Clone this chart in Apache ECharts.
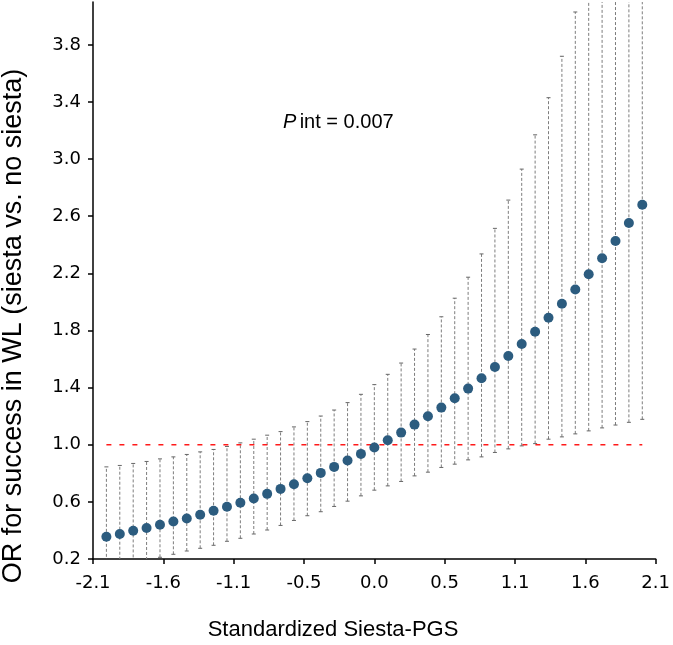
<!DOCTYPE html>
<html><head><meta charset="utf-8">
<script src="https://cdn.jsdelivr.net/npm/echarts@6/dist/echarts.min.js"></script>
<style>html,body{margin:0;padding:0;background:#fff}#c{width:673px;height:645px}</style>
</head><body><div id="c"></div>
<script>
// ---- data ----
const pgs = [-2.0,-1.9,-1.8,-1.7,-1.6,-1.5,-1.4,-1.3,-1.2,-1.1,-1.0,-0.9,-0.8,-0.7,-0.6,-0.5,-0.4,-0.3,-0.2,-0.1,0.0,
             0.1,0.2,0.3,0.4,0.5,0.6,0.7,0.8,0.9,1.0,1.1,1.2,1.3,1.4,1.5,1.6,1.7,1.8,1.9,2.0];
const orValues = [0.356,0.375,0.398,0.417,0.440,0.463,0.484,0.510,0.538,0.566,0.594,0.624,0.656,0.691,0.724,0.766,0.803,0.845,0.890,0.936,0.981,
                  1.032,1.085,1.141,1.199,1.260,1.325,1.393,1.465,1.544,1.621,1.705,1.791,1.889,1.987,2.087,2.194,2.306,2.427,2.553,2.681];
const ciLower = [0.145,0.160,0.176,0.193,0.212,0.233,0.256,0.275,0.296,0.324,0.345,0.375,0.403,0.435,0.470,0.503,0.531,0.568,0.605,0.642,0.682,
                 0.712,0.743,0.782,0.808,0.841,0.864,0.894,0.915,0.946,0.971,0.992,1.008,1.039,1.055,1.076,1.097,1.118,1.138,1.157,1.178];
const ciUpper = [0.845,0.855,0.869,0.883,0.901,0.915,0.932,0.950,0.967,0.988,1.013,1.039,1.067,1.092,1.125,1.162,1.201,1.243,1.295,1.353,1.421,
                 1.493,1.572,1.670,1.772,1.896,2.026,2.173,2.336,2.515,2.713,2.930,3.170,3.430,3.720,4.030,4.370,4.730,5.120,5.550,6.000];
const xTickValues = [-2.1,-1.575,-1.05,-0.525,0,0.525,1.05,1.575,2.1];
const xTickLabels = ['-2.1','-1.6','-1.1','-0.5','0.0','0.5','1.1','1.6','2.1'];
const yTickValues = [0.2,0.6,1.0,1.4,1.8,2.2,2.6,3.0,3.4,3.8];
const yTickLabels = ['0.2','0.6','1.0','1.4','1.8','2.2','2.6','3.0','3.4','3.8'];
const refOR = 1.0;
const refRange = [-2.0, 2.0];
const xTitle = 'Standardized Siesta-PGS';
const yTitle = 'OR for success in WL (siesta vs. no siesta)';

// ---- chart ----
const chart = echarts.init(document.getElementById('c'));
const pointData = pgs.map((x, i) => [x, orValues[i]]);
const ciData = pgs.map((x, i) => [x, ciLower[i], ciUpper[i]]);
function nearestLabel(v, vals, labels) {
  let best = 0;
  for (let i = 1; i < vals.length; i++) if (Math.abs(vals[i] - v) < Math.abs(vals[best] - v)) best = i;
  return labels[best];
}
const tickFont = { fontFamily: '"DejaVu Sans"', fontSize: 18, color: '#000' };

chart.setOption({
  animation: false,
  backgroundColor: '#fff',
  grid: { left: 93, right: 13, top: 2, bottom: 86, containLabel: false },
  xAxis: {
    type: 'value', min: -2.1, max: 2.1,
    axisLine: { onZero: false, lineStyle: { color: '#000', width: 1.5 } },
    axisTick: { show: true, customValues: xTickValues, length: 5, lineStyle: { color: '#000', width: 1.5 } },
    axisLabel: { customValues: xTickValues, margin: 15, ...tickFont,
                 formatter: v => nearestLabel(v, xTickValues, xTickLabels) },
    splitLine: { show: false }
  },
  yAxis: {
    type: 'value', min: 0.2, max: 4.1,
    axisLine: { show: true, onZero: false, lineStyle: { color: '#000', width: 1.5 } },
    axisTick: { show: true, customValues: yTickValues, length: 5, lineStyle: { color: '#000', width: 1.5 } },
    axisLabel: { customValues: yTickValues, margin: 12, ...tickFont,
                 formatter: v => nearestLabel(v, yTickValues, yTickLabels) },
    splitLine: { show: false }
  },
  series: [
    {
      type: 'custom', name: 'CI', clip: true, z: 1,
      data: ciData,
      renderItem: function (params, api) {
        const x = api.value(0), lo = api.value(1), hi = api.value(2);
        const a = api.coord([x, lo]), b = api.coord([x, hi]);
        const cap = 2;
        return {
          type: 'group', children: [
            { type: 'line', shape: { x1: a[0], y1: a[1], x2: b[0], y2: b[1] },
              style: { stroke: '#7d7d7d', lineWidth: 1, lineDash: [3, 2] } },
            { type: 'line', shape: { x1: a[0] - cap, y1: a[1], x2: a[0] + cap, y2: a[1] },
              style: { stroke: '#666', lineWidth: 1 } },
            { type: 'line', shape: { x1: b[0] - cap, y1: b[1], x2: b[0] + cap, y2: b[1] },
              style: { stroke: '#666', lineWidth: 1 } }
          ]
        };
      }
    },
    {
      type: 'line', name: 'ref', z: 2, symbol: 'none', silent: true,
      data: [[refRange[0], refOR], [refRange[1], refOR]],
      lineStyle: { color: '#ff1a1a', width: 1.3, type: [5, 8] }
    },
    {
      type: 'scatter', name: 'OR', z: 3,
      data: pointData, symbol: 'circle', symbolSize: 10,
      itemStyle: { color: '#2c5c7f', opacity: 1 }
    }
  ],
  graphic: [
    {
      type: 'text', left: 283, top: 112,
      style: {
        text: '{i|P} {n|int = 0.007}',
        rich: {
          i: { fontFamily: 'Liberation Sans', fontSize: 20, fontStyle: 'italic', fill: '#000' },
          n: { fontFamily: 'Liberation Sans', fontSize: 20, fill: '#000' }
        }
      }
    },
    {
      type: 'text', x: 333, y: 630,
      style: { text: xTitle, fontFamily: 'Liberation Sans', fontSize: 22, fill: '#000', align: 'center', verticalAlign: 'middle' }
    },
    {
      type: 'text', x: 14, y: 326, rotation: Math.PI / 2,
      style: { text: yTitle, fontFamily: 'Liberation Sans', fontSize: 27, fill: '#000', align: 'center', verticalAlign: 'middle' }
    }
  ]
});
</script>
</body></html>
